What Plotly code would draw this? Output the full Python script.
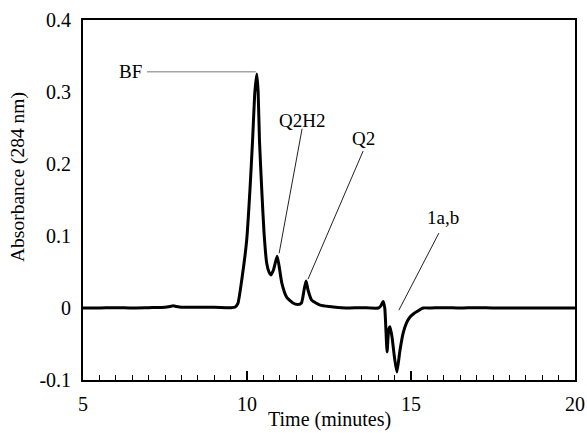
import plotly.graph_objects as go

# Chromatogram trace (time in minutes, absorbance at 284 nm)
time_min = [5.0, 5.5, 6.0, 6.5, 7.0, 7.5, 7.65, 7.75, 7.85, 8.0, 8.5, 9.0, 9.5, 9.63, 9.72,
            9.84, 9.99, 10.09, 10.17, 10.24, 10.30, 10.34, 10.38, 10.45, 10.52, 10.60, 10.67,
            10.73, 10.80, 10.87, 10.92, 10.98, 11.06, 11.21, 11.40, 11.55, 11.66, 11.74,
            11.80, 11.86, 11.97, 12.10, 12.23, 12.5, 13.0, 13.5, 14.0, 14.08, 14.15, 14.20,
            14.27, 14.32, 14.36, 14.42, 14.50, 14.57, 14.66, 14.76, 14.86, 14.97, 15.08,
            15.18, 15.37, 15.6, 16.0, 16.5, 17.0, 17.5, 18.0, 18.5, 19.0, 19.5, 20.0]
absorbance = [0.0, 0.0, 0.0005, 0.0, 0.0005, 0.001, 0.002, 0.003, 0.002, 0.001, 0.001, 0.001,
              0.0005, 0.001, 0.006, 0.039, 0.094, 0.164, 0.233, 0.300, 0.325, 0.300, 0.233,
              0.164, 0.104, 0.0625, 0.050, 0.046, 0.052, 0.064, 0.072, 0.058, 0.035, 0.015,
              0.007, 0.005, 0.007, 0.025, 0.0375, 0.025, 0.011, 0.007, 0.004, 0.002, 0.0,
              0.0005, 0.0, 0.003, 0.009, 0.0, -0.061, -0.030, -0.026, -0.040, -0.070, -0.089,
              -0.060, -0.035, -0.021, -0.0125, -0.008, -0.005, 0.0, 0.0, 0.0005, 0.0, 0.0005,
              0.0, 0.0, 0.0, 0.0, 0.0, 0.0]

# Peak labels and leader lines
label_text = ["BF", "Q2H2", "Q2", "1a,b"]
label_x = [6.46, 11.68, 13.54, 15.98]
label_y = [0.328, 0.261, 0.236, 0.126]
leader_x0 = [6.95, 11.68, 13.54, 15.85]
leader_y0 = [0.328, 0.249, 0.218, 0.104]
leader_x1 = [10.27, 10.98, 11.86, 14.63]
leader_y1 = [0.328, 0.076, 0.040, -0.003]
leader_color = ["#777777", "#222222", "#222222", "#222222"]

y_tickvals = [-0.1, 0, 0.1, 0.2, 0.3, 0.4]
y_ticktext = ["-0.1", "0", "0.1", "0.2", "0.3", "0.4"]
x_tickvals = [5, 10, 15, 20]

FF = "Liberation Serif"

fig = go.Figure()
fig.add_trace(go.Scatter(x=time_min, y=absorbance, mode="lines",
                         line=dict(color="black", width=3, shape="spline", smoothing=0.5),
                         showlegend=False, hoverinfo="skip"))

for i in range(len(label_text)):
    fig.add_shape(type="line", xref="x", yref="y",
                  x0=leader_x0[i], y0=leader_y0[i], x1=leader_x1[i], y1=leader_y1[i],
                  line=dict(color=leader_color[i], width=1))
    fig.add_annotation(x=label_x[i], y=label_y[i], text=label_text[i], showarrow=False,
                       xref="x", yref="y", font=dict(family=FF, size=19, color="black"))

# axis titles
fig.add_annotation(text="Absorbance (284 nm)", xref="paper", yref="paper",
                   x=-0.132, y=0.564, xanchor="center", yanchor="middle", textangle=-90,
                   showarrow=False, font=dict(family=FF, size=19.5, color="black"))
fig.add_annotation(text="Time (minutes)", xref="paper", yref="paper",
                   x=0.5, y=-0.111, xanchor="center", yanchor="middle",
                   showarrow=False, font=dict(family=FF, size=20, color="black"))

fig.update_layout(
    template="none",
    width=587, height=433,
    margin=dict(l=83, r=12, t=20, b=53),
    paper_bgcolor="white", plot_bgcolor="white",
    font=dict(family=FF, size=20, color="black"),
    showlegend=False,
)
fig.update_xaxes(range=[5, 20], tickvals=x_tickvals, ticks="inside", ticklen=9, tickwidth=1.5,
                 tickcolor="black", showline=True, linecolor="black", linewidth=1.8, mirror=True,
                 showgrid=False, zeroline=False, automargin=False, ticklabelstandoff=5,
                 minor=dict(dtick=0.5, ticks="inside", ticklen=5, tickwidth=1.2, tickcolor="black",
                            showgrid=False),
                 tickfont=dict(family=FF, size=20, color="black"))
fig.update_yaxes(range=[-0.1, 0.4], tickvals=y_tickvals, ticktext=y_ticktext, ticks="",
                 showline=True, linecolor="black", linewidth=1.8, mirror=True,
                 showgrid=False, zeroline=False, automargin=False, ticklabelstandoff=6,
                 tickfont=dict(family=FF, size=20, color="black"))

fig.write_html("out.html", config={"displayModeBar": False},
               post_script="document.body.style.margin='0';document.body.style.overflow='hidden';")
